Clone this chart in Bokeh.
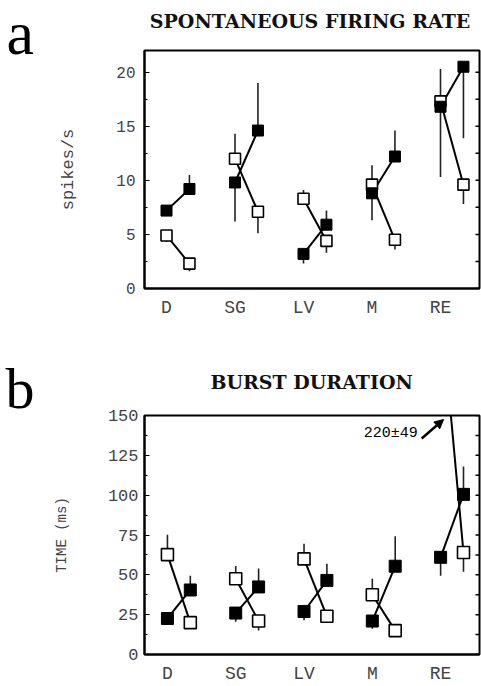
import numpy as np
from bokeh.plotting import figure
from bokeh.models import (FixedTicker, Label, Arrow, NormalHead, Range1d)
from bokeh.core.properties import value
from bokeh.layouts import column, row
from bokeh.embed import file_html
from bokeh.resources import INLINE

# ---------------- data ----------------
regions = ["D", "SG", "LV", "M", "RE"]

# panel a: spontaneous firing rate (spikes/s)
rate_filled_1 = [7.2, 9.8, 3.2, 8.8, 16.8]
rate_filled_1_err = [0.3, 3.6, 0.9, 2.5, 6.5]
rate_filled_1_dir = [-1, -1, -1, -1, -1]
rate_filled_2 = [9.2, 14.6, 5.9, 12.2, 20.5]
rate_filled_2_err = [1.3, 4.4, 1.3, 2.4, 6.6]
rate_filled_2_dir = [1, 1, 1, 1, -1]
rate_open_1 = [4.9, 12.0, 8.3, 9.6, 17.3]
rate_open_1_err = [0.6, 2.3, 0.8, 1.8, 3.0]
rate_open_1_dir = [-1, 1, 1, 1, 1]
rate_open_2 = [2.3, 7.1, 4.4, 4.5, 9.6]
rate_open_2_err = [0.7, 2.0, 1.1, 0.9, 1.8]
rate_open_2_dir = [-1, -1, -1, -1, -1]

# panel b: burst duration (ms)
burst_filled_1 = [22.6, 26.0, 27.0, 21.0, 61.0]
burst_filled_1_err = [4.0, 5.5, 5.5, 4.8, 11.5]
burst_filled_1_dir = [-1, -1, -1, -1, -1]
burst_filled_2 = [40.5, 42.4, 46.5, 55.4, 100.5]
burst_filled_2_err = [9.0, 11.5, 10.5, 18.8, 17.5]
burst_filled_2_dir = [1, 1, 1, 1, 1]
burst_open_1 = [62.7, 47.5, 60.0, 37.5, 220.0]
burst_open_1_err = [12.5, 8.0, 9.5, 10.0, 49.0]
burst_open_1_dir = [1, 1, 1, 1, 1]
burst_open_2 = [20.0, 21.0, 24.0, 15.0, 64.0]
burst_open_2_err = [2.0, 6.0, 2.0, 1.5, 12.0]
burst_open_2_dir = [-1, -1, -1, -1, -1]

rate_ticks = [0, 5, 10, 15, 20]
burst_ticks = [0, 25, 50, 75, 100, 125, 150]

SERIF = "Liberation Serif"
TITLE_FONT = "DejaVu Serif"
MONO = "Liberation Mono"
LW = 44            # width of the left strip holding the panel letters
W = 481 - LW       # width of each chart figure
H_TOTAL = 686
PX_PER_CAT = 68.5
SHIFT = 0.335
TITLE_NUDGE = -48  # empirical horizontal correction for header text


def make_panel(top, height, f_left, f_right, f_top, f_bottom, ymax, ystep,
               ticks, ylabel, ylabel_size, ylabel_standoff, tick_size,
               tick_standoff, data, msize):
    """f_left/f_right/f_top/f_bottom are page-pixel frame edges."""
    frame_w = W + LW - f_left - f_right
    x0 = -(166 - f_left) / PX_PER_CAT
    x1 = x0 + frame_w / PX_PER_CAT
    p = figure(width=W, height=height, output_backend="svg",
               toolbar_location=None, x_range=Range1d(x0, x1),
               y_range=Range1d(0, ymax), min_border_left=f_left - LW,
               min_border_right=f_right, min_border_top=f_top - top,
               min_border_bottom=top + height - f_bottom, title=None)
    p.grid.visible = False
    p.background_fill_color = "white"
    p.border_fill_color = "white"
    p.outline_line_color = "black"
    p.outline_line_width = 2

    # x axis
    xa = p.xaxis[0]
    xa.ticker = FixedTicker(ticks=list(range(len(regions))))
    xa.major_label_overrides = {i: r for i, r in enumerate(regions)}
    xa.major_tick_line_color = None
    xa.minor_tick_line_color = None
    xa.axis_line_width = 2
    xa.major_label_text_font = MONO
    xa.major_label_text_font_size = "18px"
    xa.major_label_standoff = 3

    # left axis
    ya = p.yaxis[0]
    minor = [t + ystep / 2 for t in ticks[:-1]]
    ya.ticker = FixedTicker(ticks=ticks, minor_ticks=minor)
    ya.major_tick_in = 5
    ya.major_tick_out = 0
    ya.minor_tick_in = 3
    ya.minor_tick_out = 0
    ya.axis_line_width = 2
    ya.major_label_text_font = MONO
    ya.major_label_text_font_size = tick_size
    ya.major_label_standoff = tick_standoff
    ya.axis_label = ylabel
    ya.axis_label_text_font = MONO
    ya.axis_label_text_font_style = "normal"
    ya.axis_label_text_font_size = ylabel_size
    ya.axis_label_standoff = ylabel_standoff

    # right side: short inward ticks at every major and minor tick value
    rt = sorted(ticks + minor)
    p.ray(x=[x1] * len(rt), y=rt, length=4, angle=np.pi,
          length_units="screen", line_color="black", line_width=1.5)

    (f1, f1e, f1d, f2, f2e, f2d, o1, o1e, o1d, o2, o2e, o2d) = data
    xs1 = np.arange(len(regions), dtype=float)
    xs2 = xs1 + SHIFT

    # connecting lines
    p.segment(x0=xs1, y0=f1, x1=xs2, y1=f2, line_color="black", line_width=2)
    p.segment(x0=xs1, y0=o1, x1=xs2, y1=o2, line_color="black", line_width=2)

    # error bars (one-sided)
    ex, ey0, ey1 = [], [], []
    for xs, m, e, d in ((xs1, f1, f1e, f1d), (xs2, f2, f2e, f2d),
                        (xs1, o1, o1e, o1d), (xs2, o2, o2e, o2d)):
        for xi, mi, ei, di in zip(xs, m, e, d):
            ex.append(xi)
            ey0.append(mi)
            ey1.append(mi + di * ei)
    p.segment(x0=ex, y0=ey0, x1=ex, y1=ey1, line_color="#222222",
              line_width=1.6)

    # markers
    p.scatter(x=xs1, y=o1, marker="square", size=msize, fill_color="white",
              line_color="black", line_width=1.6)
    p.scatter(x=xs2, y=o2, marker="square", size=msize, fill_color="white",
              line_color="black", line_width=1.6)
    p.scatter(x=xs1, y=f1, marker="square", size=msize, fill_color="black",
              line_color="black")
    p.scatter(x=xs2, y=f2, marker="square", size=msize, fill_color="black",
              line_color="black")

    ppy = (f_bottom - f_top) / ymax

    def dx(px):
        return x0 + (px - f_left) / PX_PER_CAT

    def dy(py):
        return (f_bottom - py) / ppy

    return p, dx, dy


def header(height, text, center_px, caps_mid_px):
    """A plain strip (no axes) carrying a panel title."""
    h = figure(width=W, height=height, output_backend="svg",
               toolbar_location=None, x_range=Range1d(0, W),
               y_range=Range1d(0, height), min_border=0, title=None)
    h.axis.visible = False
    h.grid.visible = False
    h.outline_line_color = None
    h.text(x=[center_px - LW + TITLE_NUDGE], y=[height - caps_mid_px],
           text=[text], text_font=value(TITLE_FONT), text_font_size="19px",
           text_font_style="bold", text_align="center",
           text_baseline="middle", text_color="#111111")
    return h


# ---------- panel a ----------
HA_HEAD = 46
HA = 340 - HA_HEAD
ha = header(HA_HEAD, "SPONTANEOUS FIRING RATE", 308, 20)
pa, ax, ay = make_panel(
    top=HA_HEAD, height=HA, f_left=144, f_right=2, f_top=50, f_bottom=288,
    ymax=22, ystep=5, ticks=rate_ticks, ylabel="spikes/s",
    ylabel_size="17px", ylabel_standoff=35, tick_size="16px",
    tick_standoff=9,
    data=(rate_filled_1, rate_filled_1_err, rate_filled_1_dir,
          rate_filled_2, rate_filled_2_err, rate_filled_2_dir,
          rate_open_1, rate_open_1_err, rate_open_1_dir,
          rate_open_2, rate_open_2_err, rate_open_2_dir),
    msize=11)

# ---------- panel b ----------
HB_HEAD = 58
HB = H_TOTAL - 340 - HB_HEAD
hb = header(HB_HEAD, "BURST DURATION", 310, 381 - 340)
pb, bx, by = make_panel(
    top=340 + HB_HEAD, height=HB, f_left=143, f_right=2, f_top=415,
    f_bottom=654, ymax=150, ystep=25, ticks=burst_ticks,
    ylabel="TIME (ms)", ylabel_size="14px", ylabel_standoff=35,
    tick_size="17px", tick_standoff=6,
    data=(burst_filled_1, burst_filled_1_err, burst_filled_1_dir,
          burst_filled_2, burst_filled_2_err, burst_filled_2_dir,
          burst_open_1, burst_open_1_err, burst_open_1_dir,
          burst_open_2, burst_open_2_err, burst_open_2_dir),
    msize=12)

pb.add_layout(Label(x=bx(417), y=by(433), text="220\u00b149", text_font=MONO,
                    text_font_size="15px", text_align="right",
                    text_baseline="middle", text_color="black"))
pb.add_layout(Arrow(x_start=bx(421), y_start=by(438), x_end=bx(443),
                    y_end=by(419), line_color="black", line_width=2.5,
                    end=NormalHead(size=9, fill_color="black",
                                   line_color="black")))

# ---------- panel letters (left strip) ----------
pl = figure(width=LW, height=H_TOTAL, output_backend="svg",
            toolbar_location=None, x_range=Range1d(0, LW),
            y_range=Range1d(0, H_TOTAL), min_border=0, title=None)
pl.axis.visible = False
pl.grid.visible = False
pl.outline_line_color = None
pl.text(x=[6], y=[H_TOTAL - 32], text=["a"], text_font=value(SERIF),
        text_font_size="62px", text_baseline="middle", text_color="black")
pl.text(x=[5], y=[H_TOTAL - 388], text=["b"], text_font=value(SERIF),
        text_font_size="58px", text_baseline="middle", text_color="black")

layout = row(pl, column(ha, pa, hb, pb, spacing=0), spacing=0)
open("out.html", "w").write(file_html(layout, INLINE))
